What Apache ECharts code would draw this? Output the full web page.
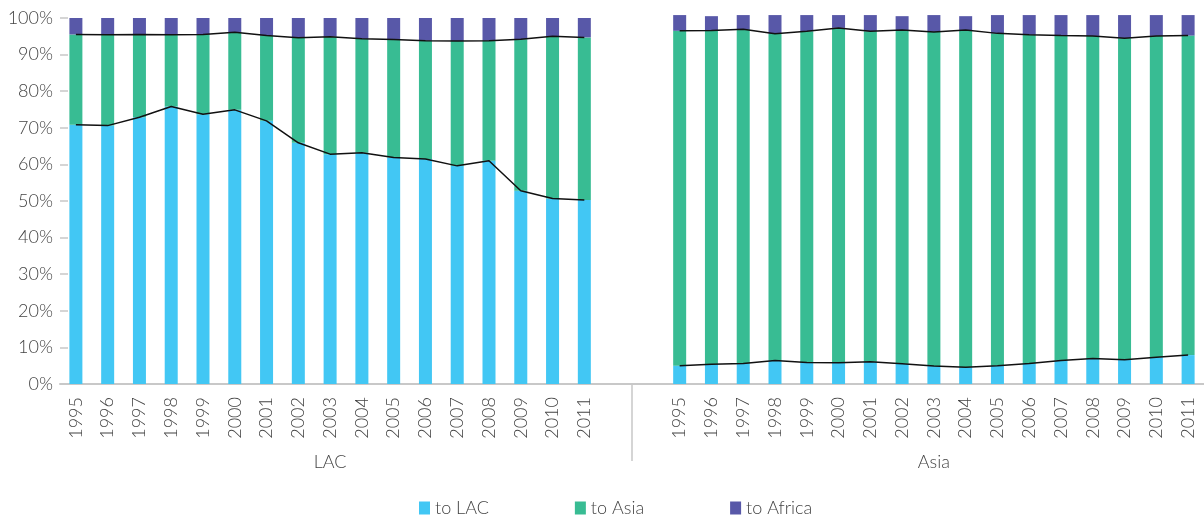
<!DOCTYPE html>
<html>
<head>
<meta charset="utf-8">
<script src="https://cdn.jsdelivr.net/npm/echarts@6/dist/echarts.min.js"></script>
<style>
  html, body { margin: 0; padding: 0; background: #fff; }
  #chart { width: 1204px; height: 519px; }
</style>
</head>
<body>
<div id="chart"></div>
<script>
const years = ['1995', '1996', '1997', '1998', '1999', '2000', '2001', '2002', '2003',
  '2004', '2005', '2006', '2007', '2008', '2009', '2010', '2011'];
const groups = ['LAC', 'Asia'];
const seriesNames = ['to LAC', 'to Asia', 'to Africa'];

// exports from LAC, share by destination (%)
const lacToLAC = [70.8, 70.6, 72.9, 75.8, 73.7, 74.9, 71.9, 65.9, 62.8, 63.2, 61.9, 61.5, 59.6, 61.0, 52.8, 50.7, 50.3];
const lacToAsia = [24.7, 24.8, 22.6, 19.6, 21.8, 21.2, 23.3, 28.7, 32.1, 31.1, 32.2, 32.3, 34.1, 32.8, 41.4, 44.3, 44.4];
const lacToAfrica = [4.5, 4.6, 4.5, 4.6, 4.5, 3.9, 4.8, 5.4, 5.1, 5.7, 5.9, 6.2, 6.3, 6.2, 5.8, 5.0, 5.3];

// exports from Asia, share by destination (%)
const asiaToLAC = [5.0, 5.4, 5.6, 6.4, 5.9, 5.8, 6.1, 5.5, 4.9, 4.6, 5.0, 5.6, 6.4, 7.0, 6.6, 7.3, 7.9];
const asiaToAsia = [91.5, 91.2, 91.3, 89.3, 90.5, 91.5, 90.3, 91.2, 91.3, 92.1, 90.8, 89.8, 88.8, 88.1, 87.9, 87.8, 87.3];
const asiaToAfrica = [4.3, 3.9, 3.9, 5.1, 4.4, 3.5, 4.4, 3.8, 4.6, 3.8, 5.0, 5.4, 5.6, 5.7, 6.3, 5.7, 5.6];

const gap = ['-', '-'];
const categories = years.concat(['', ''], years);
const join = (a, b) => a.concat(gap, b);
const cum = (a, b) => a.map((v, i) => +(v + (b ? b[i] : 0)).toFixed(1));

const colors = ['#42c7f4', '#38bc93', '#5858a8'];
const textColor = '#444444';
const axisGray = '#c8c8c8';
const font = 'Lato';
const weight = 300;

const nCat = categories.length;
const groupSplit = years.length + 1;

const barSeries = [
  join(lacToLAC, asiaToLAC),
  join(lacToAsia, asiaToAsia),
  join(lacToAfrica, asiaToAfrica)
].map((data, i) => ({
  name: seriesNames[i],
  type: 'bar',
  stack: 'share',
  barWidth: 13,
  clip: false,
  itemStyle: { color: colors[i] },
  data: data
}));

const lineStyleSeries = (data) => ({
  type: 'line',
  symbol: 'none',
  silent: true,
  z: 5,
  lineStyle: { color: '#111', width: 1.5 },
  data: data
});

const lines = [
  join(cum(lacToLAC), cum(asiaToLAC)),
  join(cum(lacToLAC, lacToAsia), cum(asiaToLAC, asiaToAsia))
].map(lineStyleSeries);

const chart = echarts.init(document.getElementById('chart'));
chart.setOption({
  animation: false,
  textStyle: { fontFamily: font, fontWeight: weight },
  grid: { left: 60, right: -5, top: 18, bottom: 135, containLabel: false },
  legend: {
    data: seriesNames,
    left: 414,
    top: 494,
    icon: 'rect',
    itemWidth: 11,
    itemHeight: 13,
    itemGap: 86,
    textStyle: { fontSize: 18, color: textColor, fontFamily: font, fontWeight: weight }
  },
  xAxis: [{
    type: 'category',
    data: categories,
    axisLine: { lineStyle: { color: axisGray, width: 2 } },
    axisTick: { length: 6, lineStyle: { color: axisGray, width: 1.5 } },
    axisLabel: {
      interval: 0,
      rotate: 90,
      margin: 13,
      fontSize: 18,
      color: textColor,
      fontFamily: font,
      fontWeight: weight
    }
  }, {
    type: 'value',
    position: 'bottom',
    min: 0,
    max: nCat,
    splitLine: { show: false },
    axisLine: { show: false },
    axisTick: { show: true, customValues: [groupSplit], length: 77, lineStyle: { color: axisGray, width: 1.5 } },
    axisLabel: {
      customValues: [years.length / 2, groupSplit + 1 + years.length / 2],
      formatter: (v) => (v < groupSplit ? groups[0] : groups[1]),
      margin: 69,
      fontSize: 18,
      color: textColor,
      fontFamily: font,
      fontWeight: weight
    }
  }],
  yAxis: {
    type: 'value',
    min: 0,
    max: 100,
    interval: 10,
    splitLine: { show: false },
    axisLine: { show: false },
    axisTick: { show: true, inside: true, length: 8, lineStyle: { color: axisGray, width: 1.5 } },
    axisLabel: { formatter: '{value}%', margin: 7, fontSize: 18, color: textColor, fontFamily: font, fontWeight: weight }
  },
  series: barSeries.concat(lines)
});
</script>
</body>
</html>
